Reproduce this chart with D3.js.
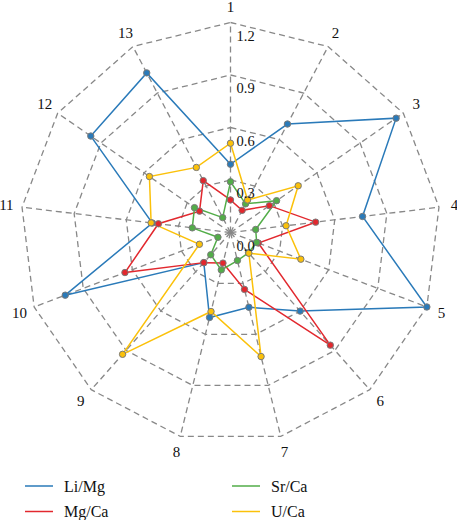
<!DOCTYPE html>
<html>
<head>
<meta charset="utf-8">
<script src="https://cdn.jsdelivr.net/npm/d3@7"></script>
<style>
  body { margin: 0; background: #fff; }
  svg text { font-family: "Liberation Serif", "DejaVu Serif", serif; fill: #111; }
</style>
</head>
<body>
<svg id="chart" width="457" height="520"></svg>
<script>
var axes = ["1","2","3","4","5","6","7","8","9","10","11","12","13"];
var ticks = [0.0, 0.3, 0.6, 0.9, 1.2];

var liMg = [0.39, 0.70, 1.15, 0.76, 1.20, 0.60, 0.44, 0.50, 0.23, 1.01, 0.45, 0.97, 1.03];
var mgCa = [0.186, 0.143, 0.27, 0.49, 0.17, 0.86, 0.335, 0.18, 0.23, 0.645, 0.415, 0.215, 0.335];
var srCa = [0.29, 0.185, 0.32, 0.145, 0.16, 0.155, 0.165, 0.22, 0.17, 0.077, 0.22, 0.25, 0.096];
var uCa  = [0.51, 0.21, 0.47, 0.32, 0.43, 0.158, 0.73, 0.465, 0.93, 0.19, 0.457, 0.563, 0.42];

var series = [
  {name: "Li/Mg", values: liMg, color: "#2a7ab9"},
  {name: "Mg/Ca", values: mgCa, color: "#e2282e"},
  {name: "Sr/Ca", values: srCa, color: "#52ad48"},
  {name: "U/Ca",  values: uCa,  color: "#fbc10a"}
];

var CX = 230.5, CY = 232.5, R = 210;

var svg = d3.select("#chart");
var g = svg.append("g").attr("transform", "translate(" + CX + "," + CY + ")");

var rScale = d3.scaleLinear().domain([0, 1.2]).range([0, R]);
var aScale = d3.scaleLinear().domain([0, axes.length]).range([0, 2 * Math.PI]);

var px = function(i, v){ return rScale(v) * Math.sin(aScale(i)); };
var py = function(i, v){ return -rScale(v) * Math.cos(aScale(i)); };

// grid rings
var ringLine = d3.lineRadial()
  .angle(function(d, i){ return aScale(i); })
  .radius(function(d){ return rScale(d); })
  .curve(d3.curveLinearClosed);

ticks.slice(1).forEach(function(t){
  g.append("path")
    .attr("d", ringLine(axes.map(function(){ return t; })))
    .attr("fill", "none")
    .attr("stroke", "#888")
    .attr("stroke-width", 1.3)
    .attr("stroke-dasharray", "6,4");
});

// spokes
g.selectAll(".spoke")
  .data(axes)
  .enter().append("line")
  .attr("x1", 0).attr("y1", 0)
  .attr("x2", function(d, i){ return px(i, 1.2); })
  .attr("y2", function(d, i){ return py(i, 1.2); })
  .attr("stroke", "#888")
  .attr("stroke-width", 1.3)
  .attr("stroke-dasharray", "6,4");

// axis labels
g.selectAll(".axlabel")
  .data(axes)
  .enter().append("text")
  .attr("x", function(d, i){ return rScale(1.29) * Math.sin(aScale(i)); })
  .attr("y", function(d, i){ return -rScale(1.29) * Math.cos(aScale(i)); })
  .attr("text-anchor", "middle")
  .attr("dominant-baseline", "central")
  .style("font-size", "15px")
  .text(function(d){ return d; });

// series lines + dots
series.forEach(function(s){
  g.append("path")
    .attr("d", ringLine(s.values))
    .attr("fill", "none")
    .attr("stroke", s.color)
    .attr("stroke-width", 1.5);
});
series.forEach(function(s){
  g.selectAll(null)
    .data(s.values)
    .enter().append("circle")
    .attr("cx", function(d, i){ return px(i, d); })
    .attr("cy", function(d, i){ return py(i, d); })
    .attr("r", 3.2)
    .attr("fill", s.color)
    .attr("stroke", "#7a7a7a")
    .attr("stroke-width", 1);
});

// tick labels
g.selectAll(".tick")
  .data(ticks)
  .enter().append("text")
  .attr("x", 6)
  .attr("y", function(d){ return -rScale(d) + 13; })
  .attr("dominant-baseline", "central")
  .style("font-size", "14.5px")
  .text(function(d){ return d.toFixed(1); });

// legend
var legend = svg.append("g");
var items = legend.selectAll("g")
  .data(series)
  .enter().append("g")
  .attr("transform", function(d, i){
    return "translate(" + (25 + Math.floor(i / 2) * 207) + "," + (486 + (i % 2) * 25.5) + ")";
  });
items.append("line")
  .attr("x1", 0).attr("x2", 28)
  .attr("stroke", function(d){ return d.color; })
  .attr("stroke-width", 1.5);
items.append("text")
  .attr("x", 39)
  .attr("dominant-baseline", "central")
  .style("font-size", "16px")
  .text(function(d){ return d.name; });
</script>
</body>
</html>
